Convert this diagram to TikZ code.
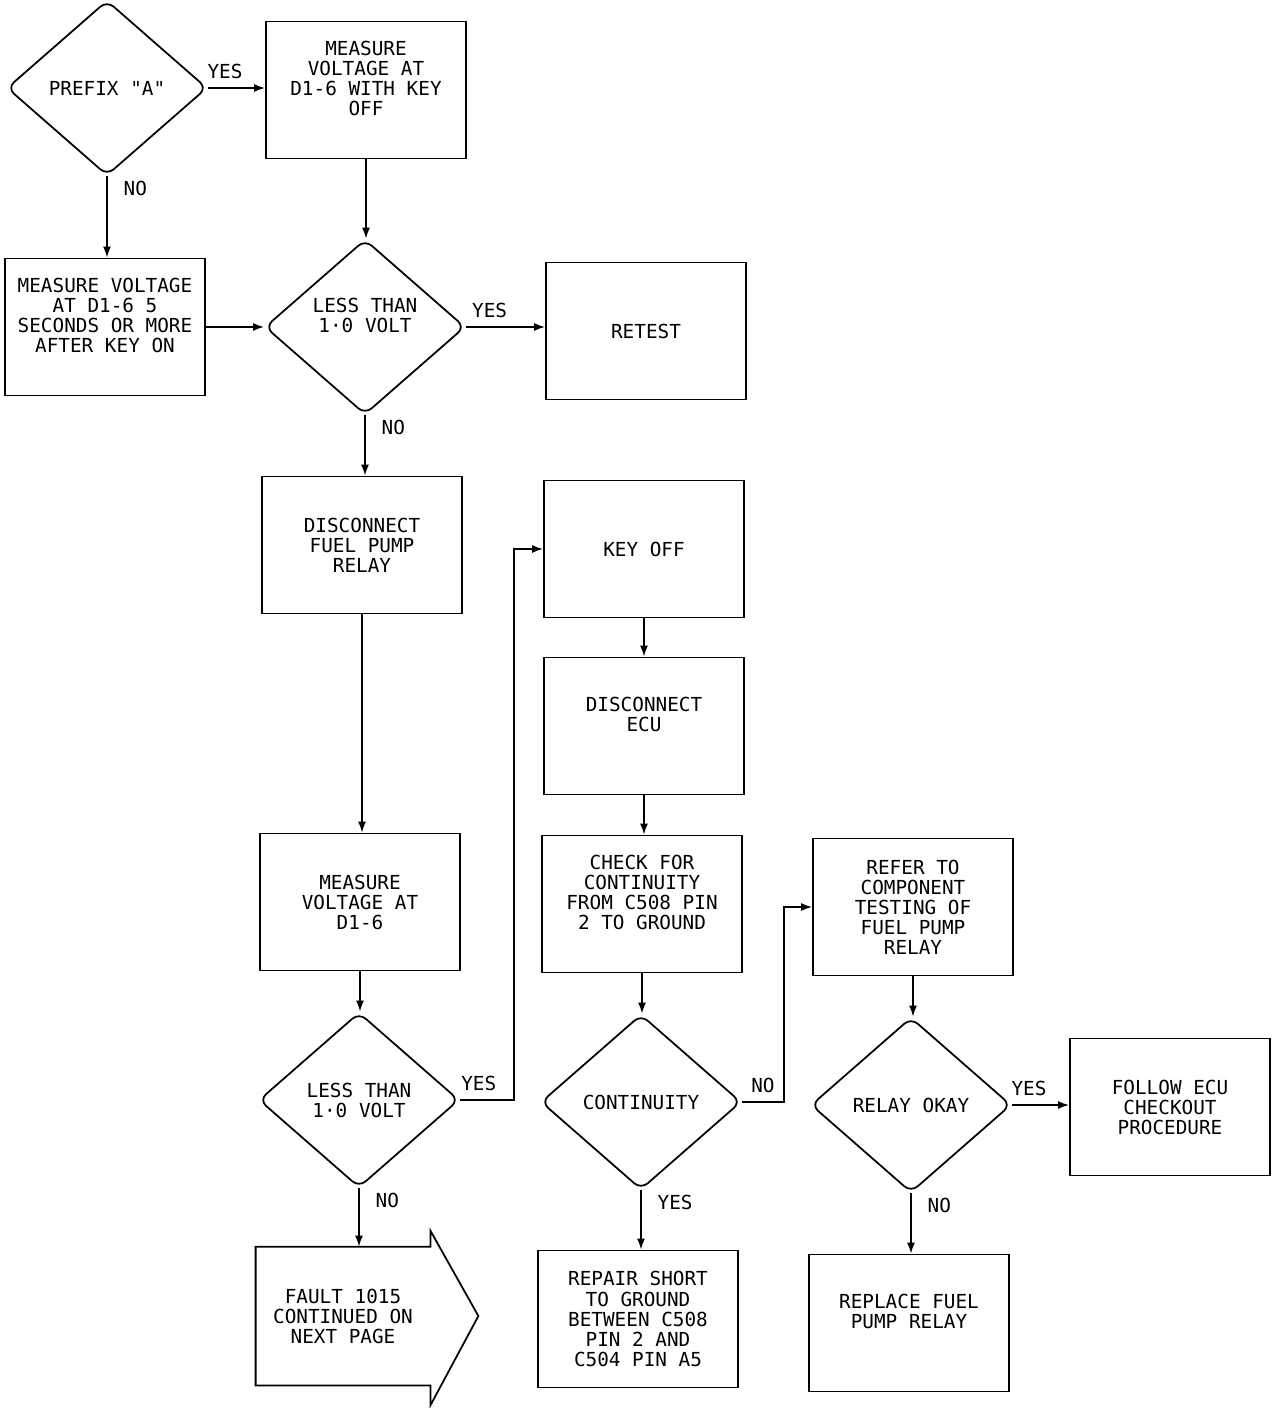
\documentclass[tikz,border=0pt]{standalone}
\usepackage{fontspec}
\setmonofont{DejaVu Sans Mono}
\usepackage{tikz}
\usetikzlibrary{shapes.geometric,arrows.meta,positioning,calc}

\begin{document}
\begin{tikzpicture}[x=0.2mm,y=-0.2mm,font=\ttfamily\fontsize{11}{11.4}\selectfont,
  action/.style={rectangle,draw,line width=1pt,minimum width=4cm,minimum height=2.74cm,
                 align=center,inner sep=0pt},
  decision/.style={diamond,draw,line width=1pt,rounded corners=5pt,minimum width=4cm,
                   minimum height=3.5cm,align=center,inner sep=0pt},
  hightext/.style={text depth=0.45cm},
  flow/.style={line width=1pt,-{Latex[length=2.2mm,width=1.6mm]}},
  lbl/.style={inner sep=1pt}]

  \useasboundingbox (0,0) rectangle (1280,1408);

  \node[decision] (prefix)  at (107,88)   {PREFIX "A"};
  \node[action,hightext]   (measoff) at (366,90)   {MEASURE\\VOLTAGE AT\\D1-6 WITH KEY\\OFF};
  \node[action,hightext]   (meason)  at (105,327)  {MEASURE VOLTAGE\\AT D1-6 5\\SECONDS OR MORE\\AFTER KEY ON};
  \node[decision,hightext] (less1)   at (365,327)  {LESS THAN\\1·0 VOLT};
  \node[action]   (retest)  at (646,331)  {RETEST};
  \node[action]   (disfuel) at (362,545)  {DISCONNECT\\FUEL PUMP\\RELAY};
  \node[action]   (keyoff)  at (644,549)  {KEY OFF};
  \node[action,hightext]   (disecu)  at (644,726)  {DISCONNECT\\ECU};
  \node[action]   (meas2)   at (360,902)  {MEASURE\\VOLTAGE AT\\D1-6};
  \node[action,hightext]   (check)   at (642,904)  {CHECK FOR\\CONTINUITY\\FROM C508 PIN\\2 TO GROUND};
  \node[action]   (refer)   at (913,907)  {REFER TO\\COMPONENT\\TESTING OF\\FUEL PUMP\\RELAY};
  \node[decision] (less2)   at (359,1100) {LESS THAN\\1·0 VOLT};
  \node[decision] (cont)    at (641,1102) {CONTINUITY};
  \node[decision] (relay)   at (911,1105) {RELAY OKAY};
  \node[action]   (follow)  at (1170,1107) {FOLLOW ECU\\CHECKOUT\\PROCEDURE};
  \node[action,draw=none,minimum width=3.46cm] (nextpg) at (343,1316) {FAULT 1015\\CONTINUED ON\\NEXT PAGE};
  \node[action]   (repair)  at (638,1319) {REPAIR SHORT\\TO GROUND\\BETWEEN C508\\PIN 2 AND\\C504 PIN A5};
  \node[action,hightext]   (replace) at (909,1323) {REPLACE FUEL\\PUMP RELAY};

  \draw[line width=1pt] (nextpg.south west) -- (nextpg.north west) -- (nextpg.north east)
    -- ([yshift=0.32cm]nextpg.north east) -- ([xshift=0.96cm]nextpg.east)
    -- ([yshift=-0.4cm]nextpg.south east) -- (nextpg.south east) -- cycle;

  \draw[flow] (prefix.east) -- node[lbl,above,pos=.3,yshift=4pt] {YES} (measoff.west |- prefix.east);
  \draw[flow] (prefix.south) -- node[lbl,right,pos=.15,xshift=8pt] {NO} (prefix.south |- meason.north);
  \draw[flow] (measoff.south) -- (measoff.south |- less1.north);
  \draw[flow] (meason.east) -- (less1.west);
  \draw[flow] (less1.east) -- node[lbl,above,pos=.3,yshift=4pt] {YES} (retest.west |- less1.east);
  \draw[flow] (less1.south) -- node[lbl,right,pos=.2,xshift=8pt] {NO} (less1.south |- disfuel.north);
  \draw[flow] (disfuel.south) -- (disfuel.south |- meas2.north);
  \draw[flow] (meas2.south) -- (meas2.south |- less2.north);
  \draw[flow] (less2.east) -- node[lbl,above,pos=.35,yshift=4pt] {YES} ++(54,0) |- (keyoff.west);
  \draw[flow] (less2.south) -- node[lbl,right,pos=.2,xshift=8pt] {NO} (less2.south |- nextpg.north);
  \draw[flow] (keyoff.south) -- (keyoff.south |- disecu.north);
  \draw[flow] (disecu.south) -- (disecu.south |- check.north);
  \draw[flow] (check.south) -- (check.south |- cont.north);
  \draw[flow] (cont.east) -- node[lbl,above,pos=.5,yshift=4pt] {NO} ++(42,0) |- (refer.west);
  \draw[flow] (cont.south) -- node[lbl,right,pos=.2,xshift=8pt] {YES} (cont.south |- repair.north);
  \draw[flow] (refer.south) -- (refer.south |- relay.north);
  \draw[flow] (relay.east) -- node[lbl,above,pos=.3,yshift=4pt] {YES} (follow.west |- relay.east);
  \draw[flow] (relay.south) -- node[lbl,right,pos=.2,xshift=8pt] {NO} (relay.south |- replace.north);
\end{tikzpicture}
\end{document}
